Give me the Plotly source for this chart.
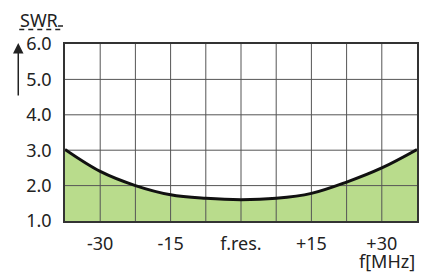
import plotly.graph_objects as go

# Data
freq = [-37.5, -30, -22.5, -15, -7.5, 0, 7.5, 15, 22.5, 30, 37.5]
swr = [3.02, 2.40, 2.00, 1.74, 1.64, 1.60, 1.64, 1.78, 2.10, 2.50, 3.02]

x_tickvals = [-30, -15, 0, 15, 30]
x_ticktext = ["-30", "-15", "f.res.", "+15", "+30"]
y_tickvals = [1, 2, 3, 4, 5, 6]
y_ticktext = ["1.0", "2.0", "3.0", "4.0", "5.0", "6.0"]
x_grid = [-30, -22.5, -15, -7.5, 0, 7.5, 15, 22.5, 30]
y_grid = [2, 3, 4, 5]

X_RANGE = [-37.5, 37.5]
Y_RANGE = [1, 6]

FONT = "Noto Sans"
TXT = "#222222"

fig = go.Figure()

# green area under the curve
fig.add_trace(go.Scatter(
    x=freq, y=swr, mode="lines", line=dict(width=0, shape="spline", color="rgba(0,0,0,0)"),
    fill="tozeroy", fillcolor="#b9dc8c", hoverinfo="skip", showlegend=False))

# grid lines drawn above the fill
gx, gy = [], []
for v in x_grid:
    gx += [v, v, None]
    gy += [Y_RANGE[0], Y_RANGE[1], None]
for v in y_grid:
    gx += [X_RANGE[0], X_RANGE[1], None]
    gy += [v, v, None]
fig.add_trace(go.Scatter(x=gx, y=gy, mode="lines", line=dict(color="#555555", width=1),
                         hoverinfo="skip", showlegend=False))

# SWR curve
fig.add_trace(go.Scatter(
    x=freq, y=swr, mode="lines", line=dict(color="#111111", width=3, shape="spline"),
    showlegend=False))

fig.update_xaxes(range=X_RANGE, tickvals=x_tickvals, ticktext=x_ticktext,
                 showgrid=False, zeroline=False, showline=True, mirror=True,
                 linecolor="#333333", linewidth=1.5, ticks="outside", ticklen=6,
                 tickcolor="rgba(0,0,0,0)", tickfont=dict(family=FONT, size=18, color=TXT))
fig.update_yaxes(range=Y_RANGE, tickvals=y_tickvals, ticktext=y_ticktext,
                 showgrid=False, zeroline=False, showline=True, mirror=True,
                 linecolor="#333333", linewidth=1.5, ticks="outside", ticklen=8,
                 tickcolor="rgba(0,0,0,0)", tickfont=dict(family=FONT, size=18, color=TXT))

# the page body has an 8px default margin: compensate so the plot lands where intended
OFF = 8
WIN_W, WIN_H = 428, 273
W, H = WIN_W - OFF, WIN_H - OFF
L, R, T, B = 65 - OFF, 9, 44 - OFF, 52
pw, ph = W - L - R, H - T - B

def px(xp):  # window pixel -> paper x
    return (xp - OFF - L) / pw

def py(yp):  # window pixel -> paper y
    return (OFF + H - B - yp) / ph

fig.update_layout(
    width=W, height=H, margin=dict(l=L, r=R, t=T, b=B),
    plot_bgcolor="white", paper_bgcolor="white",
    annotations=[
        dict(text="SWR", xref="paper", yref="paper", x=px(18), y=py(20),
             xanchor="left", yanchor="middle", showarrow=False,
             font=dict(family=FONT, size=18, color=TXT)),
        dict(text="f[MHz]", xref="paper", yref="paper", x=px(419), y=py(261),
             xanchor="right", yanchor="middle", showarrow=False,
             font=dict(family=FONT, size=18, color=TXT)),
        dict(text="", xref="paper", yref="paper", x=px(18), y=py(43),
             ax=0, ay=54, showarrow=True, arrowhead=2, arrowsize=1.4,
             arrowwidth=1.5, arrowcolor=TXT),
    ],
    shapes=[
        dict(type="line", xref="paper", yref="paper", x0=px(19), x1=px(63),
             y0=py(29.5), y1=py(29.5), line=dict(color=TXT, width=1.5, dash="5px,4px")),
        dict(type="line", xref="paper", yref="paper", x0=px(58), x1=px(63),
             y0=py(26), y1=py(26), line=dict(color=TXT, width=1.5)),
    ],
)

fig.write_html("out.html")
